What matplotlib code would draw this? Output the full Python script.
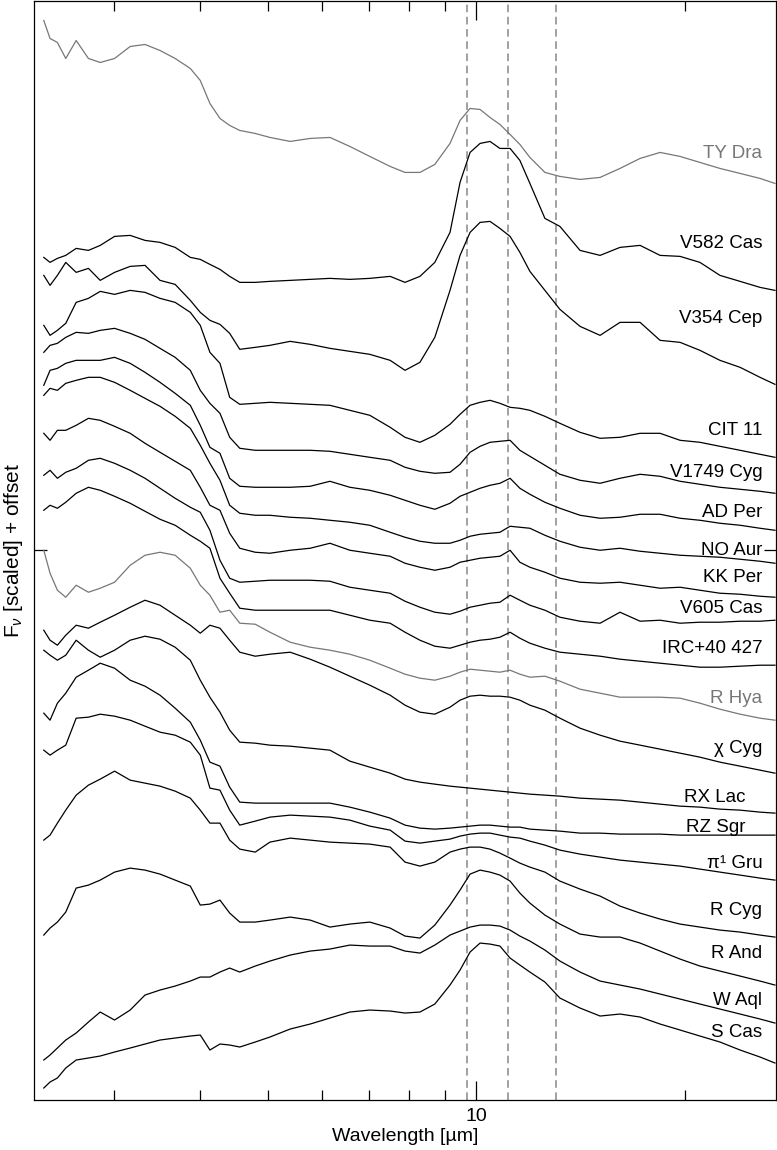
import matplotlib
matplotlib.use('Agg')
import matplotlib.pyplot as plt
from matplotlib.ticker import FixedLocator, NullFormatter, FuncFormatter

plt.rcParams['font.family'] = ['Liberation Sans', 'DejaVu Sans']
plt.rcParams['mathtext.fontset'] = 'custom'
plt.rcParams['mathtext.rm'] = 'Liberation Sans'
plt.rcParams['mathtext.it'] = 'Liberation Sans:italic'

# wavelength grid (micron) shared by all spectra
wave = [2.38, 2.43, 2.49, 2.56, 2.65, 2.76, 2.87, 3.01, 3.17, 3.33, 3.50, 3.68, 3.87,
        4.00, 4.13, 4.27, 4.41, 4.56, 4.80, 5.04, 5.39, 5.76, 6.15, 6.57, 7.02, 7.51,
        7.89, 8.29, 8.71, 9.16, 9.47, 9.79, 10.12, 10.46, 10.81, 11.18, 11.55, 11.94,
        12.55, 13.19, 14.10, 15.07, 16.10, 17.21, 18.39, 19.65, 20.99, 22.43, 23.98,
        25.62, 26.92]

# scaled flux + offset for each star
ty_dra = [10.80, 10.62, 10.58, 10.42, 10.60, 10.42, 10.38, 10.42, 10.54, 10.56, 10.50, 10.42, 10.32,
          10.20, 9.97, 9.82, 9.75, 9.70, 9.67, 9.63, 9.59, 9.62, 9.63, 9.54, 9.44, 9.34,
          9.28, 9.28, 9.36, 9.57, 9.80, 9.92, 9.91, 9.83, 9.76, 9.66, 9.56, 9.43,
          9.28, 9.24, 9.21, 9.23, 9.32, 9.42, 9.48, 9.44, 9.38, 9.32, 9.27, 9.22, 9.17]
v582_cas = [8.43, 8.38, 8.42, 8.45, 8.52, 8.50, 8.55, 8.64, 8.65, 8.60, 8.58, 8.53, 8.43,
            8.41, 8.36, 8.31, 8.24, 8.18, 8.18, 8.19, 8.20, 8.21, 8.22, 8.21, 8.22, 8.24,
            8.18, 8.24, 8.38, 8.68, 9.18, 9.48, 9.57, 9.59, 9.52, 9.52, 9.40, 9.17,
            8.82, 8.74, 8.50, 8.45, 8.53, 8.55, 8.45, 8.44, 8.38, 8.25, 8.19, 8.13, 8.10]
v354_cep = [8.25, 8.15, 8.25, 8.38, 8.28, 8.32, 8.20, 8.28, 8.34, 8.35, 8.20, 8.16, 8.00,
            7.88, 7.80, 7.76, 7.67, 7.51, 7.53, 7.55, 7.59, 7.56, 7.52, 7.49, 7.46, 7.40,
            7.30, 7.38, 7.63, 8.10, 8.45, 8.68, 8.78, 8.79, 8.72, 8.64, 8.48, 8.29,
            8.10, 7.91, 7.74, 7.65, 7.78, 7.78, 7.60, 7.58, 7.50, 7.40, 7.33, 7.23, 7.16]
cit_11 = [7.75, 7.65, 7.70, 7.77, 7.98, 8.02, 8.09, 8.06, 8.10, 8.08, 8.02, 7.98, 7.88,
          7.75, 7.48, 7.37, 7.03, 6.96, 6.97, 6.98, 6.97, 6.96, 6.95, 6.90, 6.85, 6.73,
          6.63, 6.58, 6.65, 6.76, 6.86, 6.95, 6.98, 7.00, 6.97, 6.93, 6.92, 6.90,
          6.84, 6.77, 6.68, 6.62, 6.63, 6.67, 6.67, 6.60, 6.58, 6.54, 6.50, 6.46, 6.43]
v1749_cyg = [7.48, 7.55, 7.57, 7.63, 7.68, 7.67, 7.70, 7.72, 7.67, 7.61, 7.52, 7.43, 7.30,
             7.10, 6.97, 6.87, 6.63, 6.52, 6.50, 6.50, 6.50, 6.50, 6.49, 6.46, 6.43, 6.40,
             6.33, 6.29, 6.27, 6.28, 6.36, 6.48, 6.54, 6.58, 6.59, 6.60, 6.50, 6.44,
             6.35, 6.26, 6.20, 6.17, 6.22, 6.26, 6.24, 6.19, 6.16, 6.13, 6.11, 6.09, 6.07]
ad_per = [7.15, 7.30, 7.32, 7.37, 7.40, 7.40, 7.40, 7.43, 7.37, 7.28, 7.18, 7.07, 6.95,
          6.75, 6.53, 6.47, 6.22, 6.14, 6.13, 6.13, 6.13, 6.14, 6.19, 6.13, 6.10, 6.05,
          6.00, 5.95, 5.91, 5.97, 6.04, 6.08, 6.12, 6.15, 6.17, 6.22, 6.12, 6.06,
          5.98, 5.92, 5.85, 5.82, 5.83, 5.86, 5.86, 5.82, 5.80, 5.77, 5.75, 5.72, 5.70]
no_aur = [7.05, 7.12, 7.10, 7.17, 7.20, 7.23, 7.23, 7.18, 7.10, 7.02, 6.94, 6.84, 6.72,
          6.55, 6.37, 6.20, 5.95, 5.87, 5.85, 5.85, 5.83, 5.82, 5.80, 5.78, 5.75, 5.68,
          5.63, 5.59, 5.57, 5.57, 5.60, 5.64, 5.66, 5.67, 5.68, 5.74, 5.73, 5.72,
          5.65, 5.59, 5.53, 5.50, 5.52, 5.49, 5.47, 5.45, 5.44, 5.43, 5.41, 5.39, 5.37]
kk_per = [6.67, 6.60, 6.70, 6.70, 6.75, 6.82, 6.80, 6.74, 6.67, 6.57, 6.48, 6.39, 6.30,
          6.13, 5.95, 5.90, 5.67, 5.52, 5.48, 5.47, 5.50, 5.52, 5.57, 5.50, 5.47, 5.44,
          5.37, 5.33, 5.30, 5.33, 5.38, 5.40, 5.42, 5.43, 5.44, 5.50, 5.38, 5.33,
          5.28, 5.22, 5.18, 5.17, 5.18, 5.15, 5.12, 5.13, 5.10, 5.07, 5.06, 5.04, 5.03]
v605_cas = [6.25, 6.30, 6.22, 6.28, 6.32, 6.40, 6.42, 6.37, 6.30, 6.22, 6.12, 6.02, 5.93,
            5.88, 5.70, 5.40, 5.22, 5.18, 5.19, 5.20, 5.20, 5.20, 5.19, 5.13, 5.10, 5.07,
            4.99, 4.93, 4.88, 4.86, 4.89, 4.93, 4.95, 4.97, 4.98, 5.05, 5.00, 4.95,
            4.90, 4.83, 4.79, 4.77, 4.88, 4.79, 4.80, 4.77, 4.78, 4.78, 4.79, 4.79, 4.80]
irc_40427 = [5.90, 5.95, 5.92, 5.98, 6.07, 6.13, 6.10, 6.04, 5.97, 5.89, 5.81, 5.75, 5.65,
             5.59, 5.52, 5.22, 5.07, 4.92, 4.90, 4.90, 4.90, 4.90, 4.90, 4.85, 4.80, 4.77,
             4.68, 4.60, 4.54, 4.52, 4.55, 4.58, 4.60, 4.61, 4.63, 4.68, 4.62, 4.57,
             4.52, 4.48, 4.46, 4.44, 4.41, 4.39, 4.37, 4.35, 4.33, 4.33, 4.34, 4.35, 4.35]
r_hya = [5.50, 5.27, 5.10, 5.03, 5.15, 5.08, 5.12, 5.18, 5.35, 5.45, 5.48, 5.45, 5.32,
         5.15, 5.05, 4.88, 4.90, 4.77, 4.76, 4.68, 4.58, 4.53, 4.50, 4.46, 4.40, 4.32,
         4.26, 4.22, 4.20, 4.24, 4.28, 4.31, 4.30, 4.29, 4.28, 4.30, 4.26, 4.23,
         4.24, 4.19, 4.11, 4.07, 4.03, 4.03, 4.03, 4.02, 3.97, 3.91, 3.86, 3.82, 3.80]
chi_cyg = [4.70, 4.60, 4.55, 4.65, 4.75, 4.72, 4.78, 4.85, 4.93, 5.00, 4.95, 4.85, 4.75,
           4.67, 4.75, 4.72, 4.60, 4.48, 4.44, 4.46, 4.48, 4.41, 4.33, 4.24, 4.15, 4.05,
           3.95, 3.88, 3.86, 3.93, 4.00, 4.04, 4.05, 4.04, 4.04, 4.03, 4.00, 3.95,
           3.90, 3.82, 3.72, 3.65, 3.59, 3.55, 3.51, 3.47, 3.43, 3.38, 3.34, 3.30, 3.27]
rx_lac = [4.50, 4.45, 4.40, 4.45, 4.60, 4.50, 4.43, 4.50, 4.60, 4.64, 4.61, 4.53, 4.40,
          4.20, 4.03, 3.88, 3.70, 3.58, 3.57, 3.55, 3.54, 3.52, 3.50, 3.39, 3.33, 3.27,
          3.21, 3.18, 3.16, 3.14, 3.13, 3.12, 3.11, 3.10, 3.09, 3.08, 3.07, 3.06,
          3.05, 3.04, 3.02, 3.01, 3.00, 2.98, 2.96, 2.94, 2.93, 2.91, 2.90, 2.88, 2.87]
rz_sgr = [3.87, 3.80, 3.97, 4.07, 4.23, 4.30, 4.37, 4.32, 4.20, 4.14, 4.05, 3.92, 3.78,
          3.60, 3.38, 3.34, 3.13, 2.98, 2.97, 2.97, 2.97, 2.97, 2.97, 2.93, 2.88, 2.82,
          2.75, 2.72, 2.71, 2.72, 2.73, 2.74, 2.75, 2.75, 2.74, 2.73, 2.73, 2.71,
          2.70, 2.69, 2.67, 2.67, 2.66, 2.66, 2.66, 2.65, 2.65, 2.65, 2.65, 2.65, 2.65]
pi1_gru = [3.50, 3.45, 3.50, 3.55, 3.82, 3.83, 3.86, 3.84, 3.80, 3.74, 3.68, 3.65, 3.58,
           3.45, 3.12, 3.10, 2.90, 2.75, 2.79, 2.83, 2.85, 2.84, 2.83, 2.80, 2.74, 2.70,
           2.59, 2.57, 2.59, 2.61, 2.64, 2.66, 2.67, 2.67, 2.65, 2.63, 2.62, 2.59,
           2.55, 2.50, 2.46, 2.43, 2.40, 2.38, 2.36, 2.34, 2.31, 2.28, 2.25, 2.22, 2.20]
r_cyg = [2.60, 2.65, 2.77, 2.90, 3.05, 3.15, 3.21, 3.29, 3.20, 3.17, 3.14, 3.09, 3.02,
         2.90, 2.77, 2.77, 2.60, 2.51, 2.48, 2.58, 2.62, 2.60, 2.58, 2.57, 2.56, 2.53,
         2.38, 2.34, 2.38, 2.48, 2.51, 2.53, 2.53, 2.51, 2.47, 2.42, 2.37, 2.33,
         2.28, 2.19, 2.11, 2.04, 1.94, 1.87, 1.81, 1.76, 1.73, 1.70, 1.68, 1.65, 1.63]
r_and = [1.65, 1.72, 1.78, 1.88, 2.12, 2.15, 2.20, 2.28, 2.32, 2.30, 2.26, 2.20, 2.14,
         1.95, 1.96, 2.00, 1.87, 1.78, 1.78, 1.80, 1.83, 1.80, 1.73, 1.76, 1.78, 1.72,
         1.64, 1.62, 1.75, 1.95, 2.10, 2.26, 2.30, 2.28, 2.25, 2.19, 2.07, 1.97,
         1.85, 1.76, 1.66, 1.63, 1.63, 1.57, 1.49, 1.41, 1.34, 1.29, 1.24, 1.19, 1.15]
w_aql = [0.40, 0.45, 0.52, 0.60, 0.67, 0.78, 0.88, 0.80, 0.90, 1.05, 1.10, 1.14, 1.19,
         1.23, 1.23, 1.28, 1.32, 1.28, 1.34, 1.39, 1.45, 1.49, 1.51, 1.55, 1.54, 1.54,
         1.49, 1.47, 1.55, 1.65, 1.69, 1.73, 1.75, 1.75, 1.74, 1.70, 1.64, 1.59,
         1.50, 1.39, 1.28, 1.19, 1.15, 1.11, 1.06, 1.01, 0.96, 0.91, 0.86, 0.81, 0.77]
s_cas = [0.12, 0.18, 0.22, 0.32, 0.40, 0.42, 0.44, 0.48, 0.52, 0.56, 0.60, 0.62, 0.64,
         0.65, 0.50, 0.56, 0.55, 0.53, 0.58, 0.63, 0.71, 0.76, 0.82, 0.88, 0.90, 0.89,
         0.87, 0.88, 0.96, 1.15, 1.30, 1.48, 1.57, 1.56, 1.54, 1.42, 1.35, 1.28,
         1.18, 1.02, 0.92, 0.84, 0.86, 0.83, 0.76, 0.70, 0.64, 0.58, 0.50, 0.43, 0.37]

names = ['TY Dra', 'V582 Cas', 'V354 Cep', 'CIT 11', 'V1749 Cyg', 'AD Per', 'NO Aur',
         'KK Per', 'V605 Cas', 'IRC+40 427', 'R Hya', 'χ Cyg', 'RX Lac', 'RZ Sgr',
         'π¹ Gru', 'R Cyg', 'R And', 'W Aql', 'S Cas']
spectra = [ty_dra, v582_cas, v354_cep, cit_11, v1749_cyg, ad_per, no_aur, kk_per,
           v605_cas, irc_40427, r_hya, chi_cyg, rx_lac, rz_sgr, pi1_gru, r_cyg,
           r_and, w_aql, s_cas]
gray_stars = ['TY Dra', 'R Hya']

# where the names sit (same units as the y axis)
label_y = [9.47, 8.57, 7.82, 6.70, 6.28, 5.88, 5.50, 5.23, 4.92, 4.52, 4.02, 3.52,
           3.03, 2.73, 2.37, 1.90, 1.47, 1.00, 0.68]
label_x = [25.8] * 12 + [24.45, 24.45] + [25.8] * 5

# dust feature markers
feature_lines = [9.7, 11.1, 13.0]

fig = plt.figure(figsize=(7.77, 11.5), dpi=100)
ax = fig.add_axes([34 / 777, 50 / 1150, 741.5 / 777, 1099.5 / 1150])

for x in feature_lines:
    ax.axvline(x, color='#888888', lw=1.1, dashes=(5, 3), zorder=1)

for name, flux, lx, ly in zip(names, spectra, label_x, label_y):
    col = '#777777' if name in gray_stars else 'black'
    ax.plot(wave, flux, color=col, lw=0.9, zorder=2)
    ax.text(lx, ly, name, color=col, fontsize=13.5, ha='right', va='center')

ax.set_xscale('log')
ax.set_xlim(2.304, 26.97)
ax.set_ylim(0, 11)

ax.xaxis.set_major_locator(FixedLocator([10]))
ax.xaxis.set_major_formatter(FuncFormatter(lambda v, p: '%d' % v))
ax.xaxis.set_minor_locator(FixedLocator([3, 4, 5, 6, 7, 8, 9, 20]))
ax.xaxis.set_minor_formatter(NullFormatter())
ax.set_yticks([5.5])
ax.set_yticklabels([])

ax.tick_params(axis='x', which='major', direction='in', length=14, width=0.9,
               top=True, labelsize=14, pad=6)
ax.tick_params(axis='x', which='minor', direction='in', length=7, width=0.9, top=True)
ax.tick_params(axis='y', direction='in', length=9, width=0.9, right=True)
for s in ax.spines.values():
    s.set_linewidth(0.9)

ax.set_xlabel('Wavelength [µm]', fontsize=14, labelpad=2)
ax.set_ylabel(r'F$_\nu$ [scaled] + offset', fontsize=15, labelpad=3)

fig.savefig('out.png', dpi=100)
